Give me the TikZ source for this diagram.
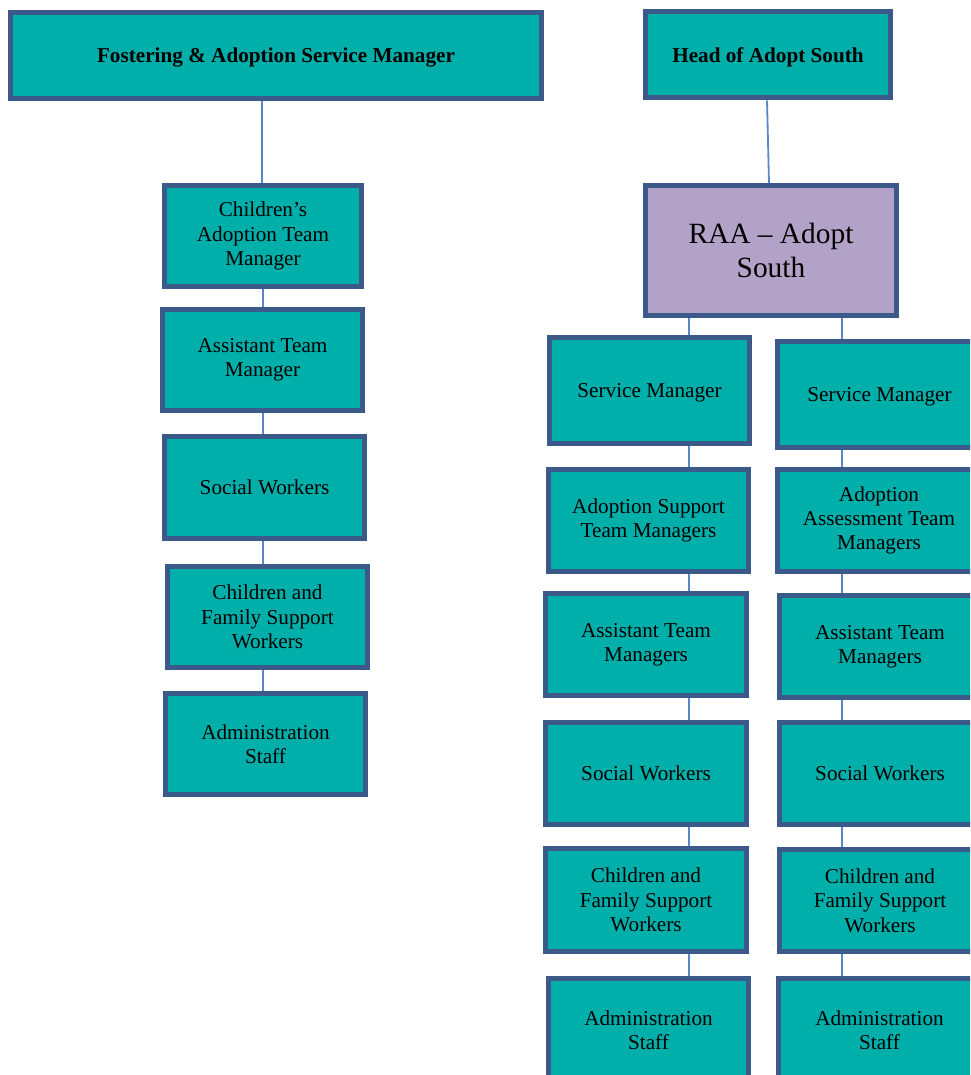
\documentclass[tikz,border=0pt]{standalone}
\usepackage{fontspec}
\setmainfont{Liberation Serif}
\usetikzlibrary{backgrounds}
\definecolor{tealfill}{RGB}{0,174,170}
\definecolor{boxborder}{RGB}{59,89,137}
\definecolor{connblue}{RGB}{91,134,199}
\definecolor{raafill}{RGB}{179,162,199}
\begin{document}
\begin{tikzpicture}[x=1pt,y=-1pt,
  box/.style={draw=boxborder, line width=5pt, fill=tealfill, inner sep=0pt,
    align=center, font=\fontsize{21.2}{24.4}\selectfont},
  oneline/.style={text depth=0pt},
  topbox/.style={box, oneline, font=\fontsize{21.2}{24.4}\selectfont\bfseries},
  raabox/.style={box, fill=raafill, font=\fontsize{29.4}{33.5}\selectfont},
  conn/.style={draw=connblue, line width=1.8pt}]
\useasboundingbox (0,0) rectangle (970,1075);
\clip (0,0) rectangle (970,1075);
% top level
\node[topbox, minimum width=531, minimum height=86] (fam) at (276,55.5) {Fostering \& Adoption Service Manager};
\node[topbox, minimum width=245, minimum height=86] (head) at (768,55) {Head of Adopt South};
\node[raabox, minimum width=251, minimum height=130] (raa) at (771,250.5) {RAA – Adopt\\South};
% left column
\node[box, minimum width=197, minimum height=101] (l1) at (263,236) {Children’s\\Adoption Team\\Manager};
\node[box, minimum width=200, minimum height=101] (l2) at (262.5,360) {Assistant Team\\Manager};
\node[box, oneline, minimum width=200, minimum height=102] (l3) at (264.5,487.5) {Social Workers};
\node[box, minimum width=200, minimum height=101] (l4) at (267.5,617) {Children and\\Family Support\\Workers};
\node[box, minimum width=200, minimum height=101] (l5) at (265.5,744) {Administration\\Staff};
% column A
\node[box, oneline, minimum width=200, minimum height=106] (a1) at (649.5,390.5) {Service Manager};
\node[box, minimum width=200, minimum height=102] (a2) at (648.5,520.5) {Adoption Support\\Team Managers};
\node[box, minimum width=201, minimum height=102] (a3) at (646,644.5) {Assistant Team\\Managers};
\node[box, oneline, minimum width=201, minimum height=102] (a4) at (646,773.5) {Social Workers};
\node[box, minimum width=201, minimum height=103] (a5) at (646,900) {Children and\\Family Support\\Workers};
\node[box, minimum width=200, minimum height=103] (a6) at (648.5,1030) {Administration\\Staff};
% column B
\node[box, oneline, minimum width=204, minimum height=106] (b1) at (879.5,394.5) {Service Manager};
\node[box, minimum width=203, minimum height=102] (b2) at (879,520.5) {Adoption\\Assessment Team\\Managers};
\node[box, minimum width=202, minimum height=102] (b3) at (880,646.5) {Assistant Team\\Managers};
\node[box, oneline, minimum width=202, minimum height=102] (b4) at (880,773.5) {Social Workers};
\node[box, minimum width=202, minimum height=102] (b5) at (880,900.5) {Children and\\Family Support\\Workers};
\node[box, minimum width=203, minimum height=103] (b6) at (879.5,1030) {Administration\\Staff};
% connector columns
\coordinate (xf) at (262,0);
\coordinate (xl) at (263,0);
\coordinate (xa) at (689,0);
\coordinate (xb) at (842,0);
\begin{scope}[on background layer]
\draw[conn] (fam.south -| xf) -- (l1.north -| xf);
\draw[conn] (l1.south -| xl) -- (l2.north -| xl);
\draw[conn] (l2.south -| xl) -- (l3.north -| xl);
\draw[conn] (l3.south -| xl) -- (l4.north -| xl);
\draw[conn] (l4.south -| xl) -- (l5.north -| xl);
\draw[conn] ([xshift=-1pt]head.south) -- ([xshift=-2pt]raa.north);
\draw[conn] (raa.south -| xa) -- (a1.north -| xa);
\draw[conn] (raa.south -| xb) -- (b1.north -| xb);
\draw[conn] (a1.south -| xa) -- (a2.north -| xa);
\draw[conn] (a2.south -| xa) -- (a3.north -| xa);
\draw[conn] (a3.south -| xa) -- (a4.north -| xa);
\draw[conn] (a4.south -| xa) -- (a5.north -| xa);
\draw[conn] (a5.south -| xa) -- (a6.north -| xa);
\draw[conn] (b1.south -| xb) -- (b2.north -| xb);
\draw[conn] (b2.south -| xb) -- (b3.north -| xb);
\draw[conn] (b3.south -| xb) -- (b4.north -| xb);
\draw[conn] (b4.south -| xb) -- (b5.north -| xb);
\draw[conn] (b5.south -| xb) -- (b6.north -| xb);
\end{scope}
\end{tikzpicture}
\end{document}
